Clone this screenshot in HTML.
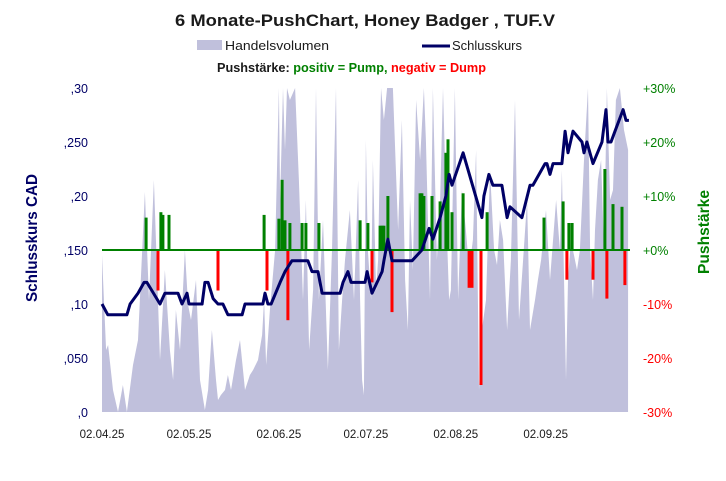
<!DOCTYPE html>
<html><head><meta charset="utf-8"><style>
html,body{margin:0;padding:0;background:#fff;}
svg{display:block;font-family:"Liberation Sans",sans-serif;}
</style></head><body>
<svg id="chart" width="726" height="481" viewBox="0 0 726 481" xmlns="http://www.w3.org/2000/svg">
<rect width="726" height="481" fill="#fff"/>
<text x="175" y="26" font-size="17" font-weight="bold" fill="#1a1a1a" textLength="380" lengthAdjust="spacingAndGlyphs">6 Monate-PushChart,  Honey Badger , TUF.V</text>
<g>
<rect x="197" y="40" width="25" height="10" fill="#c0c0dc"/>
<text x="225" y="50" font-size="12.5" fill="#1a1a1a" textLength="104" lengthAdjust="spacingAndGlyphs">Handelsvolumen</text>
<line x1="422" y1="46" x2="450" y2="46" stroke="#000066" stroke-width="3"/>
<text x="452" y="50" font-size="12.5" fill="#1a1a1a" textLength="70" lengthAdjust="spacingAndGlyphs">Schlusskurs</text>
<text x="217" y="72" font-size="12.5" font-weight="bold" textLength="269" lengthAdjust="spacingAndGlyphs"><tspan fill="#1a1a1a">Pushstärke: </tspan><tspan fill="#008000">positiv = Pump,</tspan><tspan fill="#ff0000"> negativ = Dump</tspan></text>
</g>
<text transform="translate(37,238) rotate(-90)" text-anchor="middle" font-size="16" font-weight="bold" fill="#000066" textLength="128" lengthAdjust="spacingAndGlyphs">Schlusskurs CAD</text>
<text transform="translate(709,232) rotate(-90)" text-anchor="middle" font-size="16" font-weight="bold" fill="#008000" textLength="84" lengthAdjust="spacingAndGlyphs">Pushstärke</text>
<g id="vol"></g><g id="bars"></g><g id="line"></g><g id="axes"></g>
</svg>
<script>
const volDays=[0,1.4,2.1,3.8,5.5,6.6,7.2,8.6,10.7,12.4,14.8,16.2,17.9,20,21.7,23.4,24.5,25.5,26.9,28.6,29.7,30.7,32.4,33.8,35.5,36.6,37.9,39.3,40,41,42.4,43.4,44.5,46.2,47.6,49.3,51,52.1,53.8,55.2,55.9,56.6,57.9,59.7,61,61.4,62.4,63.1,63.8,64.8,66.6,67.9,69.3,70.3,71.4,72.8,73.8,74.8,76.2,77.9,79.3,80.7,81.7,82.8,83.8,85.5,86.9,88.3,89,89.7,90.3,91,91.7,92.8,93.4,94.5,95.2,96.2,97.2,98.3,100.3,102.1,103.4,104.5,105.5,106.2,107.2,108.3,109.7,111,111.7,113.1,114.1,115.5,116.6,117.6,119,119.7,120.3,121.7,122.8,124.1,125.5,126.6,127.9,129,130,131,132.4,133.8,135.2,136.2,137.2,138.3,139.7,141,142.4,143.8,145.2,146.6,147.6,149.3,150.3,151.4,153.1,154.5,156.6,157.9,158.6,160,160.7,161.7,163.8,164.8,166.2,167.6,168.3,169.3,170,171,172.1,173.1,174.1,175.2,176.2,177.2,178.6,180,181.4];
const volValues=[157,62,67,22,0,17,27,0,47,72,220,112,232,52,142,62,32,102,62,162,107,92,132,32,2,22,82,32,12,17,22,37,22,52,72,22,37,42,52,77,112,47,102,162,400,212,400,262,400,312,400,232,112,212,62,122,400,112,192,42,162,400,62,112,152,202,112,232,112,32,17,272,162,112,252,122,152,400,292,400,400,182,292,132,82,212,142,312,252,400,272,112,400,152,212,400,172,112,122,400,112,222,182,142,172,262,22,82,112,242,162,147,192,172,82,152,312,92,152,212,82,112,132,152,202,132,212,162,242,32,132,172,142,162,252,400,162,112,182,232,252,162,400,212,222,312,400,282,262];
const priceDays=[0,2,8.6,9.7,12.4,14.5,15.5,20,21.7,26.2,27.6,29.3,30,34.5,35.5,36.6,38.3,40,41.7,43.4,48.3,49.3,55.5,56.2,57.2,58.3,61.4,63.1,65.5,71,72.4,74.5,75.9,82.1,83.1,84.8,85.9,90.7,91.4,93.1,96.6,97.2,98.6,100,106.9,110.3,112.8,114.1,116.6,118.6,119.7,120.7,124.5,131,131.7,133.4,134.8,137.9,139.7,140.7,144.8,147.6,148.6,152.8,153.4,154.5,155.5,158.6,159.7,160.7,162.4,165.5,166.2,167.2,169.3,172.4,173.8,174.5,175.5,176.9,179.7,180.7,181.7];
const priceValues=[.10,.09,.09,.10,.11,.12,.12,.10,.11,.11,.10,.11,.10,.10,.12,.12,.105,.10,.10,.09,.09,.10,.10,.11,.10,.10,.12,.13,.14,.14,.13,.13,.11,.11,.12,.13,.12,.12,.13,.11,.13,.14,.16,.14,.14,.15,.17,.16,.18,.20,.22,.21,.24,.18,.20,.22,.21,.21,.18,.19,.18,.21,.21,.23,.23,.22,.23,.23,.26,.24,.26,.25,.24,.25,.23,.25,.28,.25,.25,.26,.28,.27,.27];
const pushDays=[15.2,20.3,21,23.1,55.9,61,62.1,63.1,64.8,69,70.3,74.8,89,91.7,95.9,96.6,97.2,98.6,109.7,110.3,111,113.8,116.6,118.6,119.3,120.7,124.5,132.8,152.4,159,161,162.1,173.4,176.2,179.3,19.3,40,56.9,64.1,93.1,100,126.6,127.6,130.7,160.3,169.3,174.1,180.3];
const pushValues=[6,7,6.5,6.5,6.5,5.8,13,5.5,5,5,5,5,5.5,5,4.5,4.5,4.5,10,10.5,10.5,10,10,9,18,20.5,7,10.5,7,6,9,5,5,15,8.5,8,-7.5,-7.5,-7.5,-13,-6,-11.5,-7,-7,-25,-5.5,-5.5,-9,-6.5];
const priceTicks=[0,.05,.10,.15,.20,.25,.30];
const priceTickLabels=[",0",",050",",10",",150",",20",",250",",30"];
const pctTicks=[-30,-20,-10,0,10,20,30];
const pctTickLabels=["-30%","-20%","-10%","+0%","+10%","+20%","+30%"];
const dateTicks=[0,30,61,91,122,153];
const dateTickLabels=["02.04.25","02.05.25","02.06.25","02.07.25","02.08.25","02.09.25"];
const volMax=324;

const X0=102,YT=88,YB=412,XE=628;
const xS=d=>X0+d*2.9;
const pY=v=>YB-(v/0.30)*(YB-YT);
const cY=p=>250-p*(162/30);
const vY=v=>Math.max(YT,YB-v*(YB-YT)/volMax);
const NS="http://www.w3.org/2000/svg";
function mk(tag,parent){const e=document.createElementNS(NS,tag);parent.appendChild(e);return e;}

const vg=document.getElementById('vol');
let d="M"+xS(volDays[0])+","+YB;
volDays.forEach((dd,i)=>{d+=" L"+xS(dd).toFixed(1)+","+vY(volValues[i]).toFixed(1);});
d+=" L"+xS(volDays[volDays.length-1])+","+YB+" Z";
const va=mk('path',vg);va.setAttribute('d',d);va.setAttribute('fill','#c0c0dc');



const bg=document.getElementById('bars');
pushDays.forEach((dd,i)=>{
 const r=mk('rect',bg);const v=pushValues[i];
 const y1=cY(Math.max(v,0)),y2=cY(Math.min(v,0));
 r.setAttribute('x',(xS(dd)-1.5).toFixed(1));r.setAttribute('y',y1.toFixed(1));
 r.setAttribute('width','3');r.setAttribute('height',(y2-y1).toFixed(1));
 r.setAttribute('fill',v>=0?'#008000':'#ff0000');
 
 
});
const zl=mk('line',bg);zl.setAttribute('x1',X0);zl.setAttribute('x2',630);zl.setAttribute('y1',cY(0));zl.setAttribute('y2',cY(0));
zl.setAttribute('stroke','#008000');zl.setAttribute('stroke-width','2');



const lg=document.getElementById('line');
const pl=mk('polyline',lg);
pl.setAttribute('points',priceDays.map((dd,i)=>xS(dd).toFixed(1)+","+pY(priceValues[i]).toFixed(1)).join(" "));
pl.setAttribute('fill','none');pl.setAttribute('stroke','#000066');pl.setAttribute('stroke-width','3');pl.setAttribute('stroke-linejoin','round');



const ag=document.getElementById('axes');
priceTicks.forEach((v,i)=>{const t=mk('text',ag);t.setAttribute('x',88);t.setAttribute('y',pY(v)+5);t.setAttribute('text-anchor','end');t.setAttribute('font-size','12.5');t.setAttribute('fill','#000066');t.textContent=priceTickLabels[i];
 
 });
pctTicks.forEach((v,i)=>{const t=mk('text',ag);t.setAttribute('x',643);t.setAttribute('y',cY(v)+5);t.setAttribute('font-size','12.5');t.setAttribute('fill',v<0?'#ff0000':'#008000');t.textContent=pctTickLabels[i];
 
 });
dateTicks.forEach((v,i)=>{const t=mk('text',ag);t.setAttribute('x',xS(v));t.setAttribute('y',438);t.setAttribute('text-anchor','middle');t.setAttribute('font-size','11.5');t.setAttribute('fill','#1a1a1a');t.textContent=dateTickLabels[i];
 
 });
</script>
</body></html>
